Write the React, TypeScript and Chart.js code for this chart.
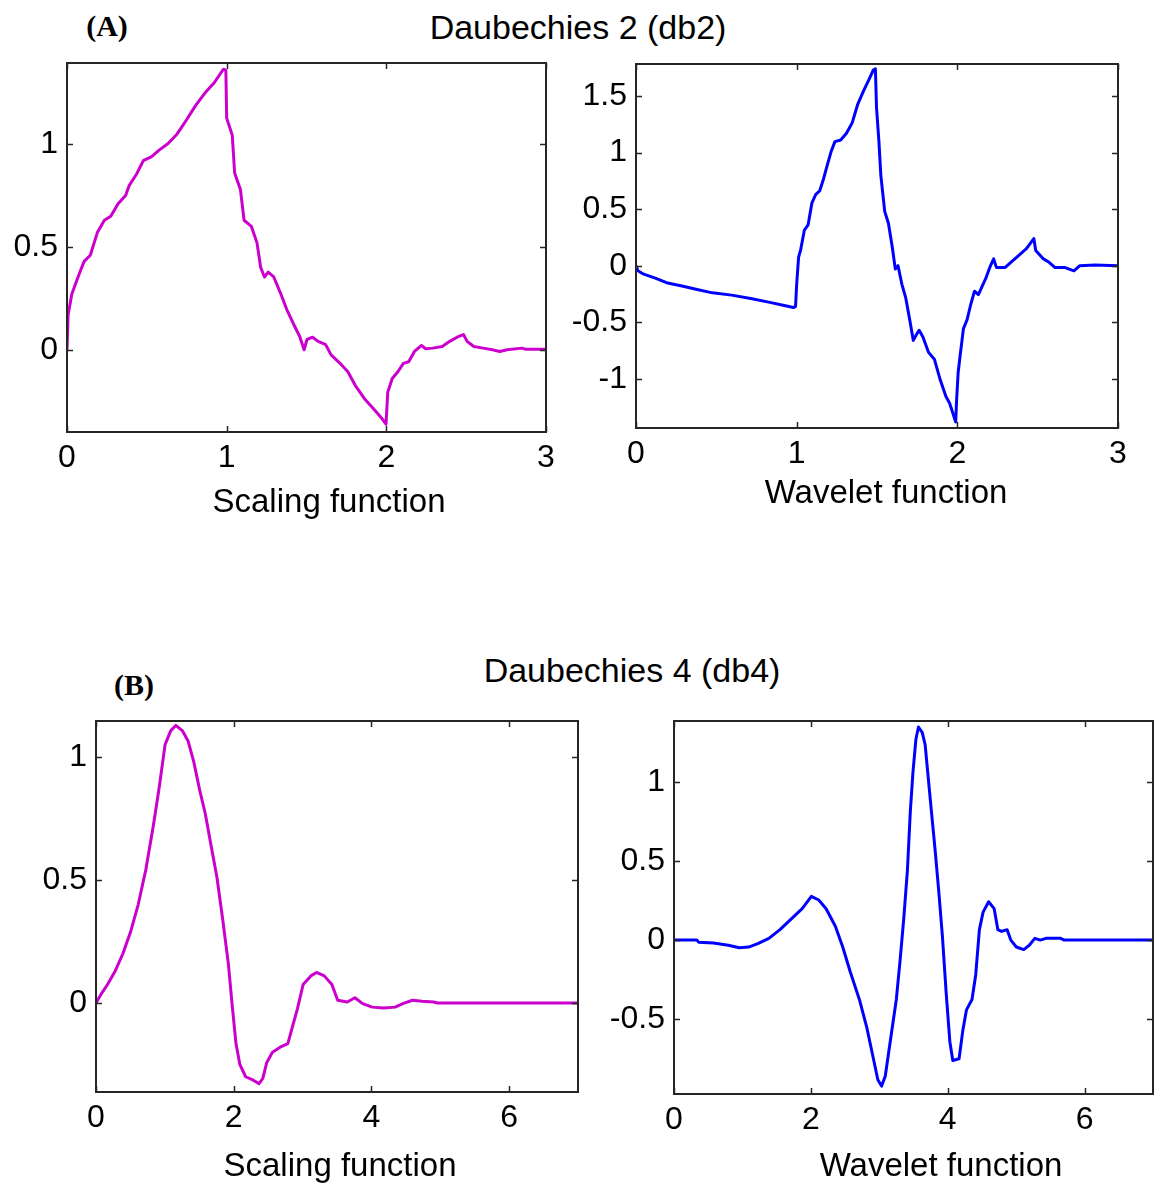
import React, { useEffect, useRef } from 'react';
import { Chart, registerables } from 'chart.js';

Chart.register(...registerables);

// ---------- data ----------
const db2Scaling: [number, number][] = [
  [0, 0], [0.007, 0.17], [0.03, 0.27], [0.053, 0.32], [0.077, 0.37], [0.107, 0.43], [0.146, 0.46],
  [0.19, 0.57], [0.234, 0.63], [0.274, 0.65], [0.32, 0.71], [0.367, 0.75], [0.39, 0.8], [0.436, 0.855],
  [0.478, 0.92], [0.53, 0.94], [0.575, 0.97], [0.633, 1.003], [0.69, 1.05], [0.75, 1.12], [0.807, 1.19],
  [0.865, 1.25], [0.923, 1.3], [0.98, 1.365], [0.995, 1.36], [1.0, 1.127], [1.035, 1.044], [1.05, 0.86],
  [1.086, 0.78], [1.109, 0.63], [1.155, 0.6], [1.19, 0.52], [1.213, 0.4], [1.237, 0.354], [1.26, 0.378],
  [1.295, 0.354], [1.34, 0.27], [1.376, 0.197], [1.42, 0.123], [1.457, 0.066], [1.485, 0.0], [1.503, 0.05],
  [1.538, 0.061], [1.573, 0.041], [1.62, 0.025], [1.654, -0.025], [1.71, -0.066], [1.759, -0.107],
  [1.805, -0.173], [1.863, -0.238], [1.921, -0.288], [1.967, -0.329], [1.998, -0.362], [2.009, -0.206],
  [2.037, -0.14], [2.072, -0.107], [2.107, -0.066], [2.14, -0.058], [2.176, -0.008], [2.22, 0.021],
  [2.246, 0.005], [2.29, 0.008], [2.35, 0.016], [2.397, 0.041], [2.443, 0.061], [2.483, 0.074],
  [2.506, 0.041], [2.548, 0.016], [2.606, 0.008], [2.664, 0.0], [2.71, -0.008], [2.756, 0.0],
  [2.85, 0.008], [2.87, 0.003], [3.0, 0.003],
];

const db2Wavelet: [number, number][] = [
  [0, 0], [0.012, -0.045], [0.048, -0.075], [0.12, -0.11], [0.19, -0.15], [0.286, -0.18], [0.38, -0.21],
  [0.476, -0.24], [0.595, -0.26], [0.714, -0.29], [0.833, -0.324], [0.93, -0.354], [0.98, -0.37],
  [0.993, -0.36], [1.0, -0.165], [1.012, 0.075], [1.024, 0.135], [1.048, 0.315], [1.071, 0.36],
  [1.095, 0.555], [1.119, 0.63], [1.143, 0.66], [1.167, 0.766], [1.19, 0.886], [1.214, 1.006],
  [1.238, 1.096], [1.274, 1.11], [1.31, 1.17], [1.345, 1.26], [1.38, 1.426], [1.417, 1.546],
  [1.452, 1.65], [1.476, 1.726], [1.49, 1.74], [1.497, 1.396], [1.512, 1.096], [1.524, 0.796],
  [1.548, 0.48], [1.571, 0.375], [1.595, 0.165], [1.614, -0.03], [1.631, 0], [1.655, -0.165],
  [1.679, -0.285], [1.702, -0.465], [1.726, -0.66], [1.743, -0.615], [1.762, -0.57], [1.786, -0.63],
  [1.821, -0.766], [1.857, -0.826], [1.893, -1.006], [1.929, -1.156], [1.952, -1.216], [1.99, -1.381],
  [1.995, -1.2], [2.005, -0.946], [2.016, -0.81], [2.038, -0.556], [2.06, -0.48], [2.083, -0.345],
  [2.107, -0.225], [2.131, -0.255], [2.155, -0.18], [2.179, -0.105], [2.202, -0.015], [2.226, 0.06],
  [2.243, -0.015], [2.298, -0.015], [2.333, 0.03], [2.381, 0.09], [2.43, 0.15], [2.476, 0.24],
  [2.488, 0.135], [2.536, 0.06], [2.571, 0.03], [2.607, -0.015], [2.667, -0.015], [2.726, -0.045],
  [2.762, 0], [2.857, 0.006], [3, 0],
];

const db4Scaling: [number, number][] = [
  [0, 0], [0.084, 0.04], [0.167, 0.075], [0.279, 0.13], [0.39, 0.2], [0.5, 0.287], [0.613, 0.4],
  [0.724, 0.542], [0.836, 0.726], [0.92, 0.88], [1.003, 1.05], [1.086, 1.107], [1.159, 1.128],
  [1.253, 1.107], [1.337, 1.065], [1.42, 0.98], [1.504, 0.867], [1.588, 0.768], [1.671, 0.64],
  [1.755, 0.513], [1.838, 0.344], [1.922, 0.16], [1.978, -0.01], [2.033, -0.165], [2.089, -0.25],
  [2.173, -0.3], [2.284, -0.314], [2.368, -0.328], [2.423, -0.307], [2.479, -0.243], [2.563, -0.2],
  [2.674, -0.18], [2.786, -0.165], [2.841, -0.109], [2.925, -0.024], [3.008, 0.075], [3.12, 0.11],
  [3.203, 0.124], [3.315, 0.11], [3.426, 0.075], [3.51, 0.011], [3.649, 0.004], [3.76, 0.021],
  [3.872, -0.003], [4.011, -0.017], [4.178, -0.021], [4.345, -0.017], [4.457, -0.003], [4.596, 0.011],
  [4.735, 0.007], [4.903, 0.004], [4.958, 0], [7, 0],
];

const db4Wavelet: [number, number][] = [
  [0, 0], [0.335, 0], [0.36, -0.013], [0.577, -0.018], [0.793, -0.033], [0.955, -0.049], [1.09, -0.044],
  [1.225, -0.022], [1.387, 0.011], [1.549, 0.066], [1.711, 0.133], [1.873, 0.199], [2.007, 0.277],
  [2.115, 0.254], [2.223, 0.199], [2.358, 0.088], [2.466, -0.044], [2.574, -0.199], [2.709, -0.376],
  [2.817, -0.553], [2.925, -0.774], [2.979, -0.885], [3.033, -0.925], [3.087, -0.863], [3.168, -0.619],
  [3.249, -0.376], [3.303, -0.133], [3.357, 0.133], [3.411, 0.442], [3.454, 0.819], [3.492, 1.062],
  [3.535, 1.272], [3.573, 1.35], [3.627, 1.316], [3.67, 1.239], [3.708, 1.062], [3.761, 0.819],
  [3.815, 0.575], [3.869, 0.31], [3.923, 0.022], [3.977, -0.332], [4.031, -0.642], [4.074, -0.763],
  [4.166, -0.752], [4.22, -0.575], [4.274, -0.442], [4.355, -0.376], [4.409, -0.221], [4.463, 0.066],
  [4.517, 0.177], [4.598, 0.243], [4.679, 0.199], [4.733, 0.066], [4.787, 0.055], [4.868, 0.066],
  [4.922, 0], [5.003, -0.044], [5.111, -0.06], [5.192, -0.033], [5.273, 0.011], [5.354, 0],
  [5.435, 0.011], [5.65, 0.011], [5.704, 0], [7, 0],
];

// tick labels / ranges
const db2XTicks = [0, 1, 2, 3];
const db4XTicks = [0, 2, 4, 6];
const db2ScalingYTicks = [0, 0.5, 1];
const db2WaveletYTicks = [-1, -0.5, 0, 0.5, 1, 1.5];
const db4ScalingYTicks = [0, 0.5, 1];
const db4WaveletYTicks = [-0.5, 0, 0.5, 1];

const db2XRange: [number, number] = [0, 3];
const db4XRange: [number, number] = [0, 7];
const db2ScalingYRange: [number, number] = [-0.4, 1.395];
const db2WaveletYRange: [number, number] = [-1.434, 1.782];
const db4ScalingYRange: [number, number] = [-0.362, 1.146];
const db4WaveletYRange: [number, number] = [-0.975, 1.388];

const titles = ['Daubechies 2 (db2)', 'Daubechies 4 (db4)'];
const panelLetters = ['(A)', '(B)'];
const axisLabels = ['Scaling function', 'Wavelet function'];

// ---------- styling ----------
const SANS = '"Liberation Sans", Arial, Helvetica, sans-serif';
const SERIF = '"Liberation Serif", "Times New Roman", serif';
const MAGENTA = '#cc00cc';
const BLUE = '#0000ff';

const Y_W = 90;
const PAD_T = 30;
const X_H = 60;

const framePlugin = {
  id: 'matlabFrame',
  afterDatasetsDraw(chart: any) {
    const { ctx, chartArea: a, scales } = chart;
    ctx.save();
    ctx.strokeStyle = '#262626';
    ctx.lineWidth = 1.5;
    const tl = 6;
    for (const t of scales.x.ticks) {
      const px = Math.round(scales.x.getPixelForValue(t.value)) + 0.5;
      ctx.beginPath();
      ctx.moveTo(px, a.bottom);
      ctx.lineTo(px, a.bottom - tl);
      ctx.moveTo(px, a.top);
      ctx.lineTo(px, a.top + tl);
      ctx.stroke();
    }
    for (const t of scales.y.ticks) {
      const py = Math.round(scales.y.getPixelForValue(t.value)) + 0.5;
      ctx.beginPath();
      ctx.moveTo(a.left, py);
      ctx.lineTo(a.left + tl, py);
      ctx.moveTo(a.right, py);
      ctx.lineTo(a.right - tl, py);
      ctx.stroke();
    }
    ctx.lineWidth = 2;
    ctx.strokeRect(a.left, a.top, a.right - a.left, a.bottom - a.top);
    ctx.restore();
  },
};

type Box = { l: number; t: number; r: number; b: number };

function Panel(props: {
  box: Box;
  points: [number, number][];
  color: string;
  xRange: [number, number];
  yRange: [number, number];
  xTicks: number[];
  yTicks: number[];
}) {
  const { box, points, color, xRange, yRange, xTicks, yTicks } = props;
  const ref = useRef<HTMLCanvasElement>(null);
  const padR = Math.min(30, 1160 - box.r);
  const cw = Y_W + (box.r - box.l) + padR;
  const ch = PAD_T + (box.b - box.t) + X_H;

  useEffect(() => {
    if (!ref.current) return;
    const tickFont = { family: SANS, size: 32 };
    const chart = new Chart(ref.current, {
      type: 'line',
      data: {
        datasets: [
          {
            data: points.map(([x, y]) => ({ x, y })),
            borderColor: color,
            backgroundColor: color,
            borderWidth: 3,
            pointRadius: 0,
            tension: 0,
            fill: false,
            borderJoinStyle: 'round',
          } as any,
        ],
      },
      options: {
        animation: false,
        responsive: false,
        devicePixelRatio: 1,
        events: [],
        layout: { padding: { top: PAD_T, right: padR, left: 0, bottom: 0 } },
        plugins: {
          legend: { display: false },
          tooltip: { enabled: false },
          title: { display: false },
        },
        scales: {
          x: {
            type: 'linear',
            min: xRange[0],
            max: xRange[1],
            grid: { display: false, drawTicks: false },
            border: { display: false },
            afterBuildTicks: (axis: any) => {
              axis.ticks = xTicks.map((v) => ({ value: v }));
            },
            afterFit: (axis: any) => {
              axis.height = X_H;
            },
            ticks: {
              padding: 7,
              color: '#000',
              font: tickFont,
              maxRotation: 0,
              autoSkip: false,
              callback: (v: any) => String(v),
            },
          },
          y: {
            type: 'linear',
            min: yRange[0],
            max: yRange[1],
            grid: { display: false, drawTicks: false },
            border: { display: false },
            afterBuildTicks: (axis: any) => {
              axis.ticks = yTicks.map((v) => ({ value: v }));
            },
            afterFit: (axis: any) => {
              axis.width = Y_W;
            },
            ticks: {
              padding: 9,
              color: '#000',
              font: tickFont,
              autoSkip: false,
              callback: (v: any) => String(v),
            },
          },
        },
      } as any,
      plugins: [framePlugin],
    });
    return () => chart.destroy();
  }, []);

  return (
    <canvas
      ref={ref}
      width={cw}
      height={ch}
      style={{ position: 'absolute', left: box.l - Y_W, top: box.t - PAD_T, width: cw, height: ch }}
    />
  );
}

function Label(props: { text: string; x: number; y: number; size: number; bold?: boolean; serif?: boolean }) {
  const { text, x, y, size, bold, serif } = props;
  return (
    <div
      style={{
        position: 'absolute',
        left: x,
        top: y,
        transform: 'translate(-50%, -50%)',
        fontFamily: serif ? SERIF : SANS,
        fontSize: size,
        fontWeight: bold ? 'bold' : 'normal',
        lineHeight: 1,
        whiteSpace: 'nowrap',
        color: '#000',
      }}
    >
      {text}
    </div>
  );
}

export default function App() {
  return (
    <div
      style={{
        position: 'absolute',
        left: 0,
        top: 0,
        width: 1160,
        height: 1186,
        overflow: 'hidden',
        background: '#fff',
      }}
    >
      <Label text={panelLetters[0]} x={107} y={26} size={30} bold serif />
      <Label text={titles[0]} x={578} y={27} size={34} />
      <Panel
        box={{ l: 67, t: 63, r: 546, b: 432 }}
        points={db2Scaling}
        color={MAGENTA}
        xRange={db2XRange}
        yRange={db2ScalingYRange}
        xTicks={db2XTicks}
        yTicks={db2ScalingYTicks}
      />
      <Panel
        box={{ l: 636, t: 64, r: 1118, b: 428 }}
        points={db2Wavelet}
        color={BLUE}
        xRange={db2XRange}
        yRange={db2WaveletYRange}
        xTicks={db2XTicks}
        yTicks={db2WaveletYTicks}
      />
      <Label text={axisLabels[0]} x={329} y={500} size={33} />
      <Label text={axisLabels[1]} x={886} y={491} size={33} />

      <Label text={panelLetters[1]} x={134} y={685} size={30} bold serif />
      <Label text={titles[1]} x={632} y={670} size={34} />
      <Panel
        box={{ l: 96, t: 721, r: 578, b: 1092 }}
        points={db4Scaling}
        color={MAGENTA}
        xRange={db4XRange}
        yRange={db4ScalingYRange}
        xTicks={db4XTicks}
        yTicks={db4ScalingYTicks}
      />
      <Panel
        box={{ l: 674, t: 721, r: 1153, b: 1094 }}
        points={db4Wavelet}
        color={BLUE}
        xRange={db4XRange}
        yRange={db4WaveletYRange}
        xTicks={db4XTicks}
        yTicks={db4WaveletYTicks}
      />
      <Label text={axisLabels[0]} x={340} y={1164} size={33} />
      <Label text={axisLabels[1]} x={941} y={1164} size={33} />
    </div>
  );
}
